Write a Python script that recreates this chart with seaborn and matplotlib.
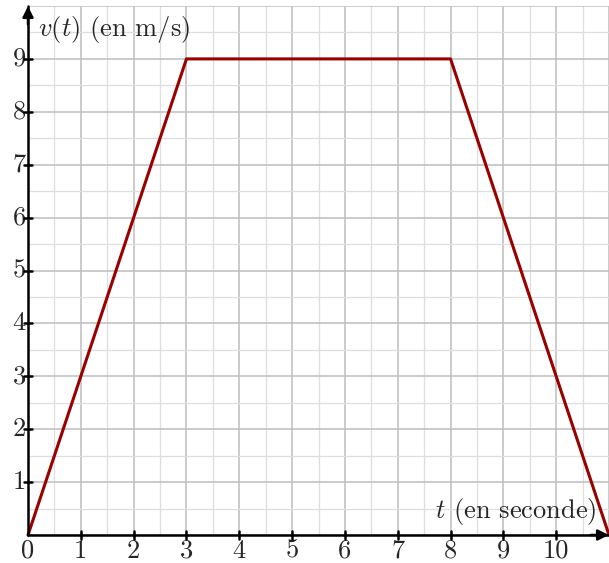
import numpy as np
import pandas as pd
import seaborn as sns
import matplotlib.pyplot as plt

# vitesse v(t) en fonction du temps
temps = [0, 3, 8, 11]
vitesse = [0, 9, 9, 0]
xticks = [1, 2, 3, 4, 5, 6, 7, 8, 9, 10]
yticks = [1, 2, 3, 4, 5, 6, 7, 8, 9]

df = pd.DataFrame({'t': temps, 'v': vitesse})

sns.set_style('white')
plt.rcParams['font.family'] = ['cmr10']
plt.rcParams['mathtext.fontset'] = 'cm'
plt.rcParams['axes.formatter.use_mathtext'] = True

fig = plt.figure(figsize=(6.09, 5.63), dpi=100)
ax = fig.add_axes([28 / 609, 28 / 563, 581 / 609, 529 / 563])

sns.lineplot(data=df, x='t', y='v', color='#990000', linewidth=2.2, ax=ax, clip_on=False, zorder=5)

ax.set_xlim(0, 11)
ax.set_ylim(0, 10)

# grille
ax.set_xticks(np.arange(0, 11.01, 1))
ax.set_yticks(np.arange(0, 10.01, 1))
ax.set_xticks(np.arange(0.5, 11, 1), minor=True)
ax.set_yticks(np.arange(0.5, 10, 1), minor=True)
ax.grid(which='major', color='#bdbdbd', linewidth=1.1)
ax.grid(which='minor', color='#dedede', linewidth=0.9)
ax.tick_params(which='both', length=0, labelbottom=False, labelleft=False)
for s in ax.spines.values():
    s.set_visible(False)

# axes avec flèches
ax.plot([0, 11], [0, 0], color='black', lw=1.8, clip_on=False, zorder=6)
ax.plot([0, 0], [0, 10], color='black', lw=1.8, clip_on=False, zorder=6)
ax.annotate('', xy=(11.05, 0), xytext=(10.6, 0), annotation_clip=False,
            arrowprops=dict(arrowstyle='-|>', color='black', lw=1.8, mutation_scale=16), zorder=7)
ax.annotate('', xy=(0, 10.05), xytext=(0, 9.6), annotation_clip=False,
            arrowprops=dict(arrowstyle='-|>', color='black', lw=1.8, mutation_scale=16), zorder=7)

# graduations
fs = 19
for x in xticks:
    ax.plot([x, x], [-0.07, 0.07], color='black', lw=1.8, clip_on=False, zorder=6)
    ax.text(x, -0.08, str(x), ha='center', va='top', fontsize=fs, clip_on=False)
for y in yticks:
    ax.plot([-0.07, 0.07], [y, y], color='black', lw=1.8, clip_on=False, zorder=6)
    ax.text(-0.04, y, str(y), ha='right', va='center', fontsize=fs, clip_on=False)
ax.text(0, -0.08, '0', ha='center', va='top', fontsize=fs, clip_on=False)

ax.text(0.19, 9.56, '$v(t)$ (en m/s)', ha='left', va='center', fontsize=fs)
ax.text(10.77, 0.45, '$t$ (en seconde)', ha='right', va='center', fontsize=fs)

ax.set_xlabel('')
ax.set_ylabel('')
fig.savefig('out.png', dpi=100)
